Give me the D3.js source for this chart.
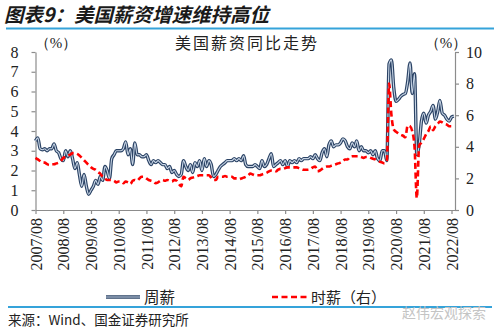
<!DOCTYPE html>
<html><head><meta charset="utf-8">
<script src="https://cdn.jsdelivr.net/npm/d3@7"></script>
<style>body{margin:0;background:#fff}</style></head>
<body>
<svg id="c" width="500" height="334"></svg>
<script>
// ---- data ----
const startYear = 2007, startMonthIdx = 7; // 2007/08, monthly observations
const xTickLabels = ["2007/08","2008/08","2009/08","2010/08","2011/08","2012/08","2013/08","2014/08","2015/08","2016/08","2017/08","2018/08","2019/08","2020/08","2021/08","2022/08"];
const leftTicks = [0,1,2,3,4,5,6,7,8];
const rightTicks = [0,2,4,6,8,10];
const seriesNames = ["周薪","时薪（右）"];
const weekly = [
 3.5,3.65,3.1,3.05,3.1,3.0,3.1,3.1,3.35,3.0,2.9,2.6,
 2.5,3.0,2.7,3.0,2.6,2.1,2.4,1.8,1.2,1.8,1.2,0.8,
 1.0,1.2,1.5,1.3,1.7,1.5,2.2,2.0,1.6,2.6,2.8,3.0,
 3.0,3.0,3.1,3.45,2.8,3.1,2.3,3.4,2.8,2.8,2.7,2.7,
 2.8,2.5,2.3,2.5,2.4,2.5,2.4,2.3,2.3,2.1,2.2,1.9,
 2.0,1.8,1.7,1.8,2.5,2.2,2.0,2.3,1.9,2.4,2.2,2.5,
 2.0,2.6,2.2,2.5,2.3,1.7,1.8,2.0,2.2,2.3,2.4,2.5,
 2.5,2.5,2.6,2.5,2.6,2.5,2.75,2.3,2.2,2.2,2.2,2.3,
 2.2,2.1,2.5,2.2,2.3,2.6,2.85,2.2,2.3,2.4,2.5,2.3,
 2.5,2.2,2.5,2.4,2.5,2.4,2.6,2.5,2.6,2.6,2.6,2.7,
 2.6,2.8,2.6,2.5,2.9,3.1,2.7,3.3,3.5,3.2,3.3,3.3,
 3.4,3.6,3.5,3.2,3.1,3.4,3.2,3.5,3.0,3.2,3.0,3.0,
 2.9,3.0,2.8,3.0,2.6,2.5,3.0,3.0,2.5,7.4,7.6,6.2,
 5.5,5.6,5.75,5.85,5.9,6.5,7.45,5.9,6.9,2.8,3.3,4.5,
 4.9,4.4,4.8,5.0,5.3,4.6,5.0,5.55,4.9,4.8,4.6,4.5,
 4.7,4.75
];
const hourly = [
 3.3,3.2,3.1,3.0,3.0,2.9,2.85,2.9,2.9,2.95,3.0,3.1,
 3.3,3.35,3.45,3.5,3.6,3.6,3.55,3.45,3.3,3.15,3.0,2.85,
 2.7,2.6,2.55,2.4,2.3,2.1,2.0,1.9,1.9,1.9,1.85,1.75,
 1.8,1.8,1.7,1.8,1.75,1.65,1.85,1.9,1.85,2.0,2.1,2.1,
 2.0,1.9,1.85,1.8,1.7,1.75,1.85,1.9,1.85,1.9,1.85,1.8,
 1.9,1.85,1.65,1.5,2.1,2.0,1.9,2.0,2.05,2.1,2.15,2.2,
 2.2,2.2,2.2,2.2,2.05,1.9,1.9,2.1,2.1,2.1,2.15,2.1,
 2.1,2.1,2.0,2.0,1.95,2.0,2.05,2.1,2.2,2.3,2.25,2.2,
 2.2,2.2,2.25,2.3,2.35,2.45,2.5,2.5,2.45,2.55,2.6,2.6,
 2.65,2.7,2.7,2.7,2.7,2.7,2.65,2.6,2.55,2.55,2.55,2.6,
 2.7,2.75,2.45,2.5,2.6,2.7,2.75,2.75,2.8,2.85,2.9,2.95,
 3.0,3.1,3.2,3.2,3.35,3.4,3.4,3.4,3.4,3.35,3.3,3.35,
 3.35,3.3,3.25,3.2,3.1,3.05,3.0,2.95,3.1,8.0,6.0,5.1,
 4.95,4.85,4.75,4.7,4.6,5.35,5.3,5.0,4.0,0.75,4.1,4.25,
 4.5,4.8,5.0,5.3,5.05,5.3,5.45,5.6,5.55,5.45,5.4,5.3,
 5.3,5.2
];

// ---- layout ----
const svg = d3.select("#c");
const L = 35.5, R = 455, T = 52, B = 210;
const dates = weekly.map((_, i) => new Date(startYear, startMonthIdx + i, 1));
const x = d3.scaleTime().domain([new Date(2007,7,1), new Date(2022,8,16)]).range([L, R]);
const yL = d3.scaleLinear().domain([0,8]).range([B, T]);
const yR = d3.scaleLinear().domain([0,10]).range([B, T]);
const tickFont = "Liberation Serif, Times New Roman, serif";
const cjk = "Noto Sans CJK SC, sans-serif";
const axisCol = "#8c8c8c";

// title
svg.append("text").attr("x", 4).attr("y", 22)
  .attr("font-family", cjk).attr("font-size", 19.5).attr("font-weight", "bold")
  .attr("font-style", "italic").attr("fill", "#1a1a1a")
  .text("图表9：美国薪资增速维持高位");
svg.append("line").attr("x1", 6).attr("x2", 494).attr("y1", 28.5).attr("y2", 28.5)
  .attr("stroke", "#35a3da").attr("stroke-width", 2);

// chart title & units
svg.append("text").attr("x", 247).attr("y", 49).attr("text-anchor", "middle")
  .attr("font-family", cjk).attr("font-size", 16).attr("fill", "#222")
  .attr("letter-spacing", 2).text("美国薪资同比走势");
svg.append("text").attr("x", 56).attr("y", 48).attr("text-anchor", "middle")
  .attr("font-family", tickFont).attr("font-size", 15).attr("fill", "#222").text("（%）");
svg.append("text").attr("x", 446).attr("y", 48).attr("text-anchor", "middle")
  .attr("font-family", tickFont).attr("font-size", 15).attr("fill", "#222").text("（%）");

// axes
function styleAxis(g){
  g.select(".domain").attr("stroke", axisCol).attr("stroke-width", 1.2);
  g.selectAll(".tick line").attr("stroke", axisCol).attr("stroke-width", 1.2);
  g.selectAll("text").attr("font-family", tickFont).attr("font-size", 16).attr("fill", "#222");
}
const gL = svg.append("g").attr("transform", `translate(${L},0)`)
  .call(d3.axisLeft(yL).tickValues(leftTicks).tickSize(4).tickPadding(13).tickSizeOuter(0));
styleAxis(gL);
const gR = svg.append("g").attr("transform", `translate(${R},0)`)
  .call(d3.axisRight(yR).tickValues(rightTicks).tickSize(4).tickPadding(7).tickSizeOuter(0));
styleAxis(gR);
const tickDates = xTickLabels.map(s => { const [yy, mm] = s.split("/").map(Number); return new Date(yy, mm - 1, 1); });
const gX = svg.append("g").attr("transform", `translate(0,${B})`)
  .call(d3.axisBottom(x).tickValues(tickDates).tickSize(4).tickSizeOuter(0)
    .tickFormat((d, i) => xTickLabels[i]));
styleAxis(gX);
gX.selectAll(".tick text")
  .attr("text-anchor", "end").attr("dy", "0.35em")
  .attr("transform", "translate(0,8) rotate(-90)")
  .attr("x", 0).attr("y", 0);

// lines
const lineL = d3.line().x((d, i) => x(dates[i])).y(d => yL(d)).curve(d3.curveMonotoneX);
const lineR = d3.line().x((d, i) => x(dates[i])).y(d => yR(d)).curve(d3.curveMonotoneX);
svg.append("path").datum(weekly).attr("d", lineL).attr("fill", "none")
  .attr("stroke", "#2c4466").attr("stroke-width", 3.4).attr("stroke-linejoin", "round");
svg.append("path").datum(weekly).attr("d", lineL).attr("fill", "none")
  .attr("stroke", "#c9d6e6").attr("stroke-width", 1.1).attr("stroke-linejoin", "round");
svg.append("path").datum(hourly).attr("d", lineR).attr("fill", "none")
  .attr("stroke", "#ff0000").attr("stroke-width", 2.6).attr("stroke-dasharray", "6,3.5");

// legend
const lg = svg.append("g");
lg.append("line").attr("x1", 106).attr("x2", 140).attr("y1", 297).attr("y2", 297)
  .attr("stroke", "#2c4466").attr("stroke-width", 3.4);
lg.append("line").attr("x1", 106).attr("x2", 140).attr("y1", 297).attr("y2", 297)
  .attr("stroke", "#c9d6e6").attr("stroke-width", 1.1);
lg.append("text").attr("x", 144).attr("y", 302.5).attr("font-family", cjk).attr("font-size", 15.5)
  .attr("fill", "#222").text(seriesNames[0]);
lg.append("line").attr("x1", 272).attr("x2", 307).attr("y1", 297).attr("y2", 297)
  .attr("stroke", "#ff0000").attr("stroke-width", 2.6).attr("stroke-dasharray", "6,3.5");
lg.append("text").attr("x", 311).attr("y", 302.5).attr("font-family", cjk).attr("font-size", 15)
  .attr("fill", "#222").text(seriesNames[1]);

// footer
svg.append("line").attr("x1", 8).attr("x2", 492).attr("y1", 307).attr("y2", 307)
  .attr("stroke", "#35a3da").attr("stroke-width", 2);
svg.append("text").attr("x", 8).attr("y", 325).attr("font-family", cjk).attr("font-size", 13.5)
  .attr("fill", "#222").text("来源：Wind、国金证券研究所");
svg.append("text").attr("x", 486).attr("y", 318).attr("text-anchor", "end")
  .attr("font-family", cjk).attr("font-size", 14).attr("fill", "#c4c4c4").text("赵伟宏观探索");
</script>
</body></html>
